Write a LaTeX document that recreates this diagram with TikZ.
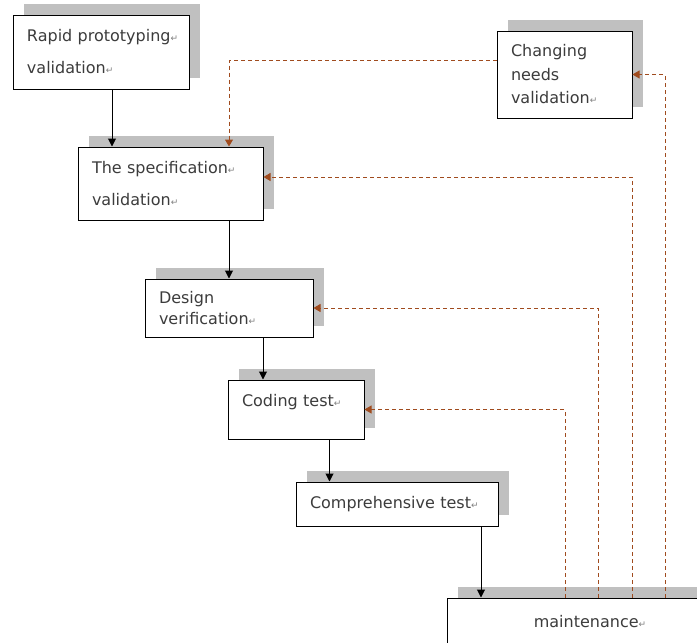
\documentclass[tikz,border=0pt]{standalone}
\usepackage{fontspec}
\setmainfont{DejaVu Sans}
\usetikzlibrary{arrows.meta,shadows}
\definecolor{shade}{RGB}{192,192,192}
\definecolor{loopcol}{RGB}{160,75,30}
\definecolor{ink}{RGB}{60,60,60}
\newcommand{\ret}{{\color{gray}\fontsize{9}{9}\selectfont ↵}}

\begin{document}
\begin{tikzpicture}[x=1pt, y=-1pt,
  box/.style={rectangle, draw, line width=1pt, fill=white, align=left, inner xsep=14pt,
    font=\fontsize{16}{22}\selectfont, text=ink,
    drop shadow={shadow xshift=11pt, shadow yshift=11pt, fill=shade, opacity=1}},
  arrow/.style={-{Triangle[width=8pt,length=8pt]}, line width=1pt},
  back/.style={-{Triangle[width=8pt,length=7pt]}, loopcol, line width=1pt, dash pattern=on 4pt off 3pt}
]
\path[use as bounding box, clip] (0,0) rectangle (697,643);

\node[box, minimum width=176pt, minimum height=74pt, text width=148pt] (rapid) at (101,52) {\mbox{Rapid prototyping\ret}\\[10pt]\mbox{validation\ret}};
\node[box, minimum width=185pt, minimum height=73pt, text width=157pt] (spec) at (170.5,183.5) {\mbox{The specification\ret}\\[10pt]\mbox{validation\ret}};
\node[box, minimum width=168pt, minimum height=58pt, text width=140pt] (design) at (229,308) {Design\\[-1pt]\mbox{verification\ret}};
\node[box, minimum width=136pt, minimum height=59pt, text width=108pt, text depth=19pt] (coding) at (296,409.5) {\mbox{Coding test\ret}};
\node[box, minimum width=202pt, minimum height=44pt, text width=174pt] (compr) at (397,504) {\mbox{Comprehensive test\ret}};
\node[box, minimum width=135pt, minimum height=87pt, text width=107pt, font=\fontsize{16}{23.5}\selectfont] (change) at (564.5,74.5) {Changing\\needs\\\mbox{validation\ret}};
\node[box, minimum width=286pt, minimum height=48pt, align=center, text width=258pt] (maint) at (590,622) {\mbox{maintenance\ret}};

\draw[arrow] ([xshift=11pt]rapid.south) -- ([xshift=11pt]rapid.south |- spec.north);
\draw[arrow] (spec.south -| design.north) -- (design.north);
\draw[arrow] ([xshift=34pt]design.south) -- ([xshift=34pt]design.south |- coding.north);
\draw[arrow] ([xshift=33.5pt]coding.south) -- ([xshift=33.5pt]coding.south |- compr.north);
\draw[arrow] ([xshift=84pt]compr.south) -- ([xshift=84pt]compr.south |- maint.north);

\draw[back] ([yshift=14.5pt]change.west) -| (spec.north -| design.north);
\draw[back] ([xshift=75pt]maint.north) |- (change.east);
\draw[back] ([xshift=42pt]maint.north) |- ([yshift=6.5pt]spec.east);
\draw[back] ([xshift=8pt]maint.north) |- (design.east);
\draw[back] ([xshift=-25pt]maint.north) |- (coding.east);
\end{tikzpicture}
\end{document}
